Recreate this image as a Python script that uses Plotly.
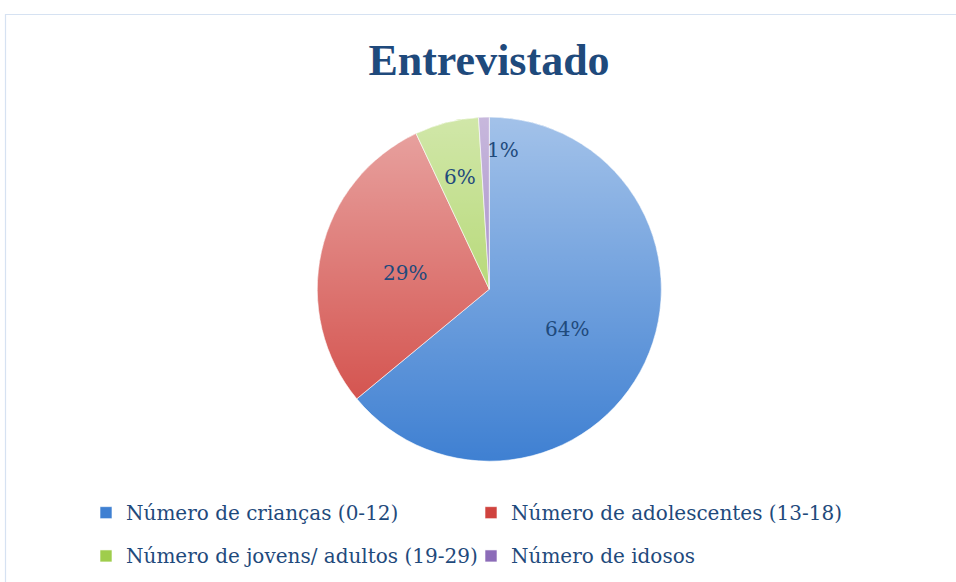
import math, base64
import plotly.graph_objects as go

# ---- data ----
categories = ["Número de crianças (0-12)", "Número de adolescentes (13-18)",
              "Número de jovens/ adultos (19-29)", "Número de idosos"]
values = [64, 29, 6, 1]
title_text = "Entrevistado"

# ---- style ----
colors = ["#3f80d2", "#d0433e", "#9fcd4c", "#8c6cb8"]
label_radius = [0.5, 0.5, 0.69, 0.83]
label_anchor = ["center", "center", "center", "left"]
W, H = 956, 582
cx, cy, R = 489.3, 289.2, 172.0
text_color = "#1f4a7c"
font_family = "DejaVu Serif"
legend_text_size = 20

dom_x = [(cx - R) / W, (cx + R) / W]
dom_y = [1 - (cy + R) / H, 1 - (cy - R) / H]

legend_labels = [f'<span style="font-size:{legend_text_size}px;baseline-shift:5px">{c}</span>'
                 for c in categories]

fig = go.Figure(go.Pie(
    labels=legend_labels, values=values, sort=False, direction="clockwise",
    rotation=0, textinfo="none", hoverinfo="percent",
    marker=dict(colors=colors, line=dict(color="white", width=0.6)),
    domain=dict(x=dom_x, y=dom_y),
))

# percent labels placed from cumulative shares
total = sum(values)
cum = 0
annotations = []
for v, f, anc in zip(values, label_radius, label_anchor):
    mid = (cum + v / 2) / total * 2 * math.pi
    cum += v
    px = cx + R * f * math.sin(mid)
    py = cy - R * f * math.cos(mid)
    annotations.append(dict(
        x=px / W, y=1 - py / H, xref="paper", yref="paper",
        text=f"{round(v / total * 100)}%", showarrow=False,
        xanchor=anc, yanchor="middle", yshift=-3,
        font=dict(family=font_family, size=20, color=text_color)))

# gradient shading overlay (light at top, fading to the bottom)
svg = ('<svg xmlns="http://www.w3.org/2000/svg" width="200" height="200" viewBox="0 0 200 200">'
       '<defs><linearGradient id="g" x1="0" y1="0" x2="0" y2="1">'
       '<stop offset="0" stop-color="#ffffff" stop-opacity="0.52"/>'
       '<stop offset="1" stop-color="#ffffff" stop-opacity="0"/>'
       '</linearGradient></defs>'
       '<circle cx="100" cy="100" r="100" fill="url(#g)"/></svg>')
src = "data:image/svg+xml;base64," + base64.b64encode(svg.encode()).decode()

fig.update_layout(
    width=W, height=H,
    margin=dict(l=0, r=0, t=0, b=0, autoexpand=False),
    paper_bgcolor="white", plot_bgcolor="white",
    title=dict(text="<b>" + title_text + "</b>", x=489 / W, xanchor="center",
               y=1 - 60 / H, yanchor="middle",
               font=dict(family="Liberation Serif", size=44, color=text_color)),
    annotations=annotations,
    images=[dict(source=src, xref="paper", yref="paper", x=dom_x[0], y=dom_y[1],
                 sizex=dom_x[1] - dom_x[0], sizey=dom_y[1] - dom_y[0],
                 sizing="stretch", layer="above", xanchor="left", yanchor="top")],
    shapes=[dict(type="rect", xref="paper", yref="paper",
                 x0=5.5 / W, x1=1.02, y0=-0.02, y1=1 - 14.5 / H,
                 line=dict(color="#d6e2f2", width=1.2), fillcolor="rgba(0,0,0,0)")],
    legend=dict(orientation="h", x=86 / W, y=1 - 486 / H, xanchor="left", yanchor="top",
                entrywidth=340, entrywidthmode="pixels",
                font=dict(family=font_family, size=31, color=text_color),
                bgcolor="rgba(0,0,0,0)", traceorder="normal"),
    showlegend=True,
)

fig.write_html("out.html", config={"displayModeBar": False},
               post_script="document.body.style.margin='0';document.body.style.overflow='hidden';")
